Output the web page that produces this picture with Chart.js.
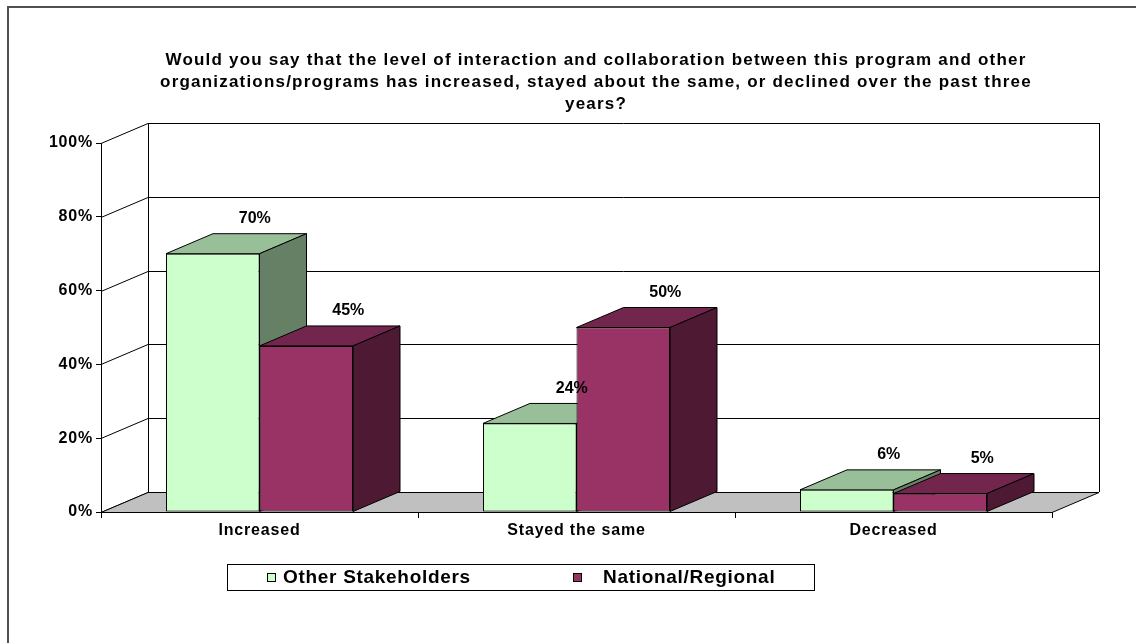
<!DOCTYPE html>
<html>
<head>
<meta charset="utf-8">
<title>Interaction and collaboration</title>
<script src="https://cdn.jsdelivr.net/npm/chart.js@4.4.1/dist/chart.umd.min.js"></script>
<style>
  body { margin: 0; background: #fff; }
  canvas { display: block; }
</style>
</head>
<body>
<canvas id="chart" width="1136" height="643"></canvas>
<script>
"use strict"

const categories = ['Increased', 'Stayed the same', 'Decreased'];
const seriesNames = ['Other Stakeholders', 'National/Regional'];
const otherStakeholders = [70, 24, 6];
const nationalRegional = [45, 50, 5];
const yTicks = [0, 20, 40, 60, 80, 100];
const titleLines = [
  'Would you say that the level of interaction and collaboration between this program and other',
  'organizations/programs has increased, stayed about the same, or declined over the past three',
  'years?'
];

const FONT = '"Liberation Sans", Arial, sans-serif';
const depth = { x: 47, y: -20 };

// front / top / side shade for each series
const shades = [
  { front: '#CCFFCC', top: '#99BF99', side: '#668066' },
  { front: '#993366', top: '#73264D', side: '#4D1933' }
];

//////////    helpers    ///////////////

function poly(ctx, pts, fill) {
  ctx.beginPath();
  ctx.moveTo(pts[0][0], pts[0][1]);
  for (let i = 1; i < pts.length; i++) ctx.lineTo(pts[i][0], pts[i][1]);
  ctx.closePath();
  if (fill) {
    ctx.fillStyle = fill;
    ctx.fill();
  }
  ctx.stroke();
}

function line(ctx, x1, y1, x2, y2) {
  ctx.beginPath();
  ctx.moveTo(x1, y1);
  ctx.lineTo(x2, y2);
  ctx.stroke();
}

//////////    3D box plugin    ///////////////

const box3d = {
  id: 'box3d',

  beforeDraw(chart) {
    const ctx = chart.ctx;
    const { left, right, top, bottom } = chart.chartArea;
    const yScale = chart.scales.y;
    const dx = depth.x, dy = depth.y;

    ctx.save();
    ctx.fillStyle = '#fff';
    ctx.fillRect(0, 0, chart.width, chart.height);

    // outer frame
    ctx.fillStyle = '#505050';
    ctx.fillRect(7, 6, chart.width - 7, 2);
    ctx.fillRect(7, 6, 2, chart.height - 6);

    // title
    ctx.fillStyle = '#000';
    ctx.font = 'bold 17px ' + FONT;
    ctx.letterSpacing = '1.2px';
    ctx.textAlign = 'center';
    ctx.textBaseline = 'middle';
    titleLines.forEach((t, i) => ctx.fillText(t, 596, 60 + i * 22));

    // walls and gridlines
    ctx.strokeStyle = '#000';
    ctx.lineWidth = 1;
    yTicks.forEach(v => {
      const y = Math.round(yScale.getPixelForValue(v)) + 0.5;
      line(ctx, left, y, left + dx, y + dy);
      line(ctx, left + dx, y + dy, right + dx, y + dy);
    });
    const bx = Math.round(left + dx) + 0.5, rx = Math.round(right + dx) + 0.5;
    line(ctx, bx, top + dy, bx, bottom + dy);
    line(ctx, rx, top + dy, rx, bottom + dy);

    // floor
    const fb = Math.round(bottom) + 0.5;
    poly(ctx, [[left, fb], [right, fb], [right + dx, fb + dy], [left + dx, fb + dy]], '#C0C0C0');

    // legend
    ctx.letterSpacing = '0px';
    ctx.strokeRect(227.5, 564.5, 587, 26);
    const keyX = [267, 573];
    const textX = [283, 603];
    chart.data.datasets.forEach((ds, i) => {
      ctx.fillStyle = shades[i].front;
      ctx.fillRect(keyX[i] + 0.5, 573.5, 8, 8);
      ctx.strokeRect(keyX[i] + 0.5, 573.5, 8, 8);
      ctx.fillStyle = '#000';
      ctx.font = 'bold 19px ' + FONT;
      ctx.letterSpacing = '0.7px';
      ctx.textAlign = 'left';
      ctx.fillText(ds.label, textX[i], 578);
      ctx.letterSpacing = '0px';
    });
    ctx.restore();

    // axis text gets the same loose spacing
    ctx.letterSpacing = '0.8px';
  },

  beforeDatasetsDraw(chart) {
    const ctx = chart.ctx;
    const dx = depth.x, dy = depth.y;
    ctx.save();
    ctx.letterSpacing = '0px';
    ctx.strokeStyle = '#000';
    ctx.lineWidth = 1;
    ctx.lineJoin = 'round';
    categories.forEach((c, j) => {
      chart.data.datasets.forEach((ds, i) => {
        const bar = chart.getDatasetMeta(i).data[j].getProps(['x', 'y', 'base', 'width'], true);
        const l = bar.x - bar.width / 2, r = bar.x + bar.width / 2;
        const t = bar.y, b = bar.base;
        poly(ctx, [[l, t], [r, t], [r + dx, t + dy], [l + dx, t + dy]], shades[i].top);
        poly(ctx, [[r, t], [r + dx, t + dy], [r + dx, b + dy], [r, b]], shades[i].side);
      });
    });
    ctx.restore();
  },

  afterDatasetsDraw(chart) {
    const ctx = chart.ctx;
    ctx.save();
    ctx.letterSpacing = '0px';
    ctx.fillStyle = '#000';
    ctx.font = 'bold 16px ' + FONT;
    ctx.textAlign = 'center';
    ctx.textBaseline = 'middle';
    chart.data.datasets.forEach((ds, i) => {
      chart.getDatasetMeta(i).data.forEach((el, j) => {
        ctx.fillText(ds.data[j] + '%', el.x + 42, el.y - 35);
      });
    });
    ctx.restore();
  }
};

//////////    chart    ///////////////

new Chart(document.getElementById('chart'), {
  type: 'bar',
  data: {
    labels: categories,
    datasets: [otherStakeholders, nationalRegional].map((values, i) => ({
      label: seriesNames[i],
      data: values,
      backgroundColor: shades[i].front,
      borderColor: '#000',
      borderWidth: 1,
      borderSkipped: false,
      categoryPercentage: 0.59,
      barPercentage: 1.0
    }))
  },
  options: {
    responsive: false,
    animation: false,
    devicePixelRatio: 1,
    layout: { padding: { top: 143, right: 84, bottom: 91, left: 0 } },
    plugins: {
      legend: { display: false },
      title: { display: false },
      tooltip: { enabled: false }
    },
    scales: {
      x: {
        grid: { display: true, drawOnChartArea: false, drawTicks: true, tickLength: 6, color: '#000', offset: true },
        border: { display: true, color: '#000', width: 1 },
        ticks: { color: '#000', padding: 3, font: { family: FONT, size: 16, weight: 'bold' } },
        afterFit(scale) { scale.height = 40; }
      },
      y: {
        min: 0,
        max: 100,
        grid: { display: true, drawOnChartArea: false, drawTicks: true, tickLength: 5, color: '#000' },
        border: { display: true, color: '#000', width: 1 },
        ticks: {
          stepSize: 20,
          color: '#000',
          padding: 3,
          font: { family: FONT, size: 16, weight: 'bold' },
          callback: v => v + '%'
        },
        afterFit(scale) { scale.width = 101; }
      }
    }
  },
  plugins: [box3d]
});
</script>
</body>
</html>
